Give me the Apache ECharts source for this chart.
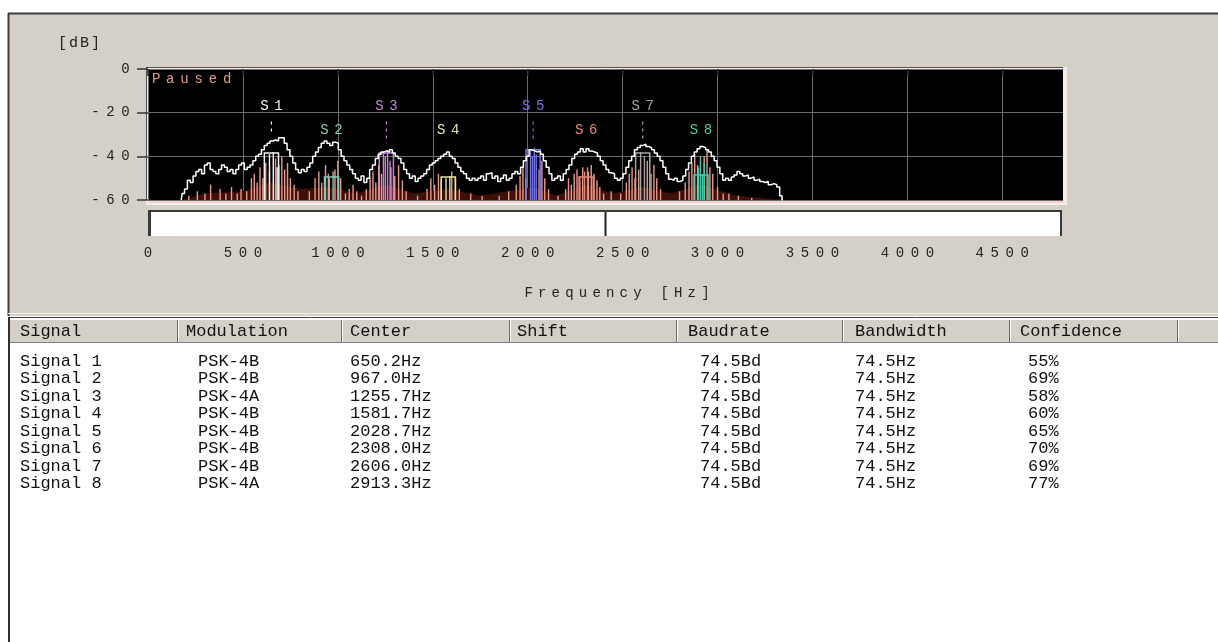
<!DOCTYPE html>
<html><head><meta charset="utf-8">
<script src="https://cdn.jsdelivr.net/npm/echarts@6/dist/echarts.min.js"></script>
<style>html,body{margin:0;padding:0;background:#fff}#c{width:1218px;height:642px}</style>
</head><body><div id="c"></div>
<script>
// ---------------- DATA ----------------
const xTickValues = [0, 500, 1000, 1500, 2000, 2500, 3000, 3500, 4000, 4500];
const yTickValues = [-60, -40, -20, 0];
const tableHeaders = ['Signal', 'Modulation', 'Center', 'Shift', 'Baudrate', 'Bandwidth', 'Confidence'];
const signalNames = ['Signal 1', 'Signal 2', 'Signal 3', 'Signal 4', 'Signal 5', 'Signal 6', 'Signal 7', 'Signal 8'];
const modulations = ['PSK-4B', 'PSK-4B', 'PSK-4A', 'PSK-4B', 'PSK-4B', 'PSK-4B', 'PSK-4B', 'PSK-4A'];
const centersHz = [650.2, 967.0, 1255.7, 1581.7, 2028.7, 2308.0, 2606.0, 2913.3];
const baudratesBd = [74.5, 74.5, 74.5, 74.5, 74.5, 74.5, 74.5, 74.5];
const bandwidthsHz = [74.5, 74.5, 74.5, 74.5, 74.5, 74.5, 74.5, 74.5];
const confidencesPct = [55, 69, 58, 60, 65, 70, 69, 77];
const signalTags = ['S1', 'S2', 'S3', 'S4', 'S5', 'S6', 'S7', 'S8'];
const tagLevelsDb = [-17, -28, -17, -28, -17, -28, -17, -28];
const dashFromDb = [-24, null, -24, null, -24, null, -24, null];
const dashToDb = [-29, null, -34, null, -33, null, -33, null];
const boxTopsDb = [-38.5, -49.5, -38.5, -49.5, -37, -49.5, -38.5, -48.5];
const markerHz = 2410;

const traceDb = [
  [175,-60],[185,-57],[200,-55],[215,-51],[230,-52],[245,-49],[260,-47],[275,-46],[290,-48],[305,-44],
  [320,-43],[335,-46],[350,-47],[365,-48],[380,-46],[395,-44],[410,-45],[425,-47],[440,-46],[455,-48],
  [470,-46],[485,-44],[500,-43],[515,-46],[530,-45],[545,-44],[560,-42],[575,-40],[590,-39],[605,-37],
  [620,-35],[635,-34],[650,-33],[665,-32.5],[680,-33],[695,-31.5],[710,-31.5],[725,-34],[740,-37],[755,-40],
  [770,-43],[785,-46],[800,-47.5],[815,-46],[830,-47],[845,-45],[860,-43],[875,-40],[890,-38],[905,-36],
  [920,-34],[935,-33],[950,-34],[965,-35],[980,-33.5],[995,-34],[1010,-37],[1025,-40],[1040,-42],[1055,-44],
  [1070,-46],[1085,-48],[1100,-50],[1115,-51],[1130,-49],[1145,-52],[1160,-50],[1175,-46],[1190,-44],[1205,-41],
  [1220,-39],[1235,-38],[1250,-37.5],[1265,-38],[1280,-37],[1295,-38.5],[1310,-40],[1325,-41],[1340,-43],[1355,-46],
  [1370,-48],[1385,-50],[1400,-49],[1415,-51.5],[1430,-50],[1445,-49],[1460,-48],[1475,-46],[1490,-44],[1505,-43],
  [1520,-42],[1535,-41],[1550,-40],[1565,-39],[1580,-38],[1595,-40],[1610,-41],[1625,-43],[1640,-45],[1655,-47],
  [1670,-48],[1685,-50],[1700,-51],[1715,-50],[1730,-51],[1745,-50],[1760,-49],[1775,-51],[1790,-48],[1805,-47.5],
  [1820,-50],[1835,-49],[1850,-51.5],[1865,-50],[1880,-48.5],[1895,-51],[1910,-50],[1925,-48],[1940,-47],[1955,-48],
  [1970,-45],[1985,-42],[2000,-40],[2015,-37],[2030,-37.5],[2045,-38],[2060,-37.5],[2075,-39],[2090,-42],[2105,-45],
  [2120,-48],[2135,-51],[2150,-50],[2165,-49],[2180,-51],[2195,-48],[2210,-46],[2225,-44],[2240,-41],[2255,-39],
  [2270,-38],[2285,-36.5],[2300,-38],[2315,-36.5],[2330,-37.5],[2345,-38],[2360,-38.5],[2375,-40],[2390,-42],[2405,-44],
  [2420,-46],[2435,-47.5],[2450,-48],[2465,-50],[2480,-51],[2495,-50],[2510,-48],[2525,-45],[2540,-42],[2555,-40],
  [2570,-37],[2585,-36],[2600,-35],[2615,-34.5],[2630,-35.5],[2645,-36],[2660,-37],[2675,-38.5],[2690,-40],[2705,-42],
  [2720,-45],[2735,-48],[2750,-50.5],[2765,-51],[2780,-50],[2795,-51.5],[2810,-51],[2825,-49],[2840,-46],[2855,-43],
  [2870,-40],[2885,-38],[2900,-36.5],[2915,-35.5],[2930,-36],[2945,-37],[2960,-38],[2975,-40],[2990,-42],[3005,-45],
  [3020,-48],[3035,-51],[3050,-50],[3065,-51],[3080,-49.5],[3095,-48.5],[3110,-47],[3125,-48],[3140,-49],[3155,-48.5],
  [3170,-50],[3185,-49.5],[3200,-51],[3215,-50.5],[3230,-51.5],[3245,-52],[3260,-51.5],[3275,-53],[3290,-52.5],[3305,-53],
  [3320,-54],[3335,-58],[3345,-60]
];

const noiseSpikes = [
  [215,-58],[260,-56],[300,-57],[330,-53],[380,-55],[410,-57],[440,-54],[470,-57],[490,-55],[520,-56],[545,-50],[560,-48],[575,-52],[590,-45],[605,-50],[620,-43],
  [640,-47],[672,-41],[690,-44],[705,-40],[720,-46],[735,-43],[750,-50],[770,-53],[790,-56],
  [850,-56],[880,-50],[900,-47],[915,-52],[935,-44],[950,-48],[985,-46],[1000,-42],[1015,-50],[1040,-57],
  [1060,-55],[1080,-53],[1100,-56],[1125,-58],
  [1150,-55],[1170,-50],[1185,-47],[1200,-52],[1215,-44],[1230,-48],[1280,-45],[1300,-49],[1320,-44],[1340,-51],[1360,-56],
  [1420,-58],[1470,-55],[1490,-50],[1510,-53],[1530,-48],[1545,-51],[1600,-47],[1620,-50],[1640,-55],[1700,-57],[1760,-58],
  [1850,-58],[1900,-56],[1940,-53],[1960,-49],[1975,-45],[1990,-50],[2060,-46],[2075,-42],[2090,-50],[2110,-55],[2160,-58],
  [2200,-55],[2215,-50],[2230,-53],[2245,-48],[2260,-46],[2275,-49],[2290,-45],[2320,-47],[2335,-44],[2350,-48],
  [2365,-51],[2380,-54],[2400,-57],[2440,-56],
  [2490,-57],[2520,-52],[2535,-48],[2550,-45],[2565,-50],[2585,-46],[2630,-42],[2650,-48],[2665,-44],[2680,-50],[2700,-55],
  [2800,-56],[2830,-52],[2850,-47],[2865,-43],[2880,-39],[2895,-44],[2930,-40],[2945,-37],[2960,-45],[2975,-48],
  [3000,-54],[3030,-57],[3060,-57],[3110,-58],[3180,-59]
];

const signalSpikes = [
  [[640,-39],[660,-38],[680,-45]],
  [[955,-50],[975,-47]],
  [[1240,-38],[1250,-40],[1262,-37],[1275,-42]],
  [[1570,-50],[1590,-49]],
  [[2015,-37],[2025,-40],[2035,-36],[2045,-39]],
  [[2300,-47],[2315,-45]],
  [[2595,-38],[2615,-40]],
  [[2900,-45],[2910,-40],[2920,-48],[2930,-43]]
];

const floorHazeDb = [
  [175,-60],[300,-57],[500,-56],[650,-52],[800,-55],[950,-54],[1100,-57],[1250,-53],[1400,-57],[1580,-55],
  [1750,-58],[2030,-54],[2150,-58],[2300,-53],[2450,-57],[2600,-54],[2750,-57],[2910,-53],[3100,-58],[3340,-60]
];

// ---------------- STYLE ----------------
const MONO = '"Liberation Mono", "Courier New", monospace';
const signalColors = ['#f2f2f2', '#86cbbb', '#c884d8', '#e6e6a4', '#7474e4', '#e48676', '#a4a4a4', '#44cbaa'];
const PANEL = '#d4d0c8';

function spaced(str) {
  return str.split('').map(ch => '{c|' + ch + '}').join('');
}
function richCell(w, size, color) {
  return { c: { width: w, align: 'center', fontSize: size, fontFamily: MONO, color: color, fill: color } };
}

const chart = echarts.init(document.getElementById('c'), null, { renderer: 'canvas' });

const GL = 148, GT = 69, GW = 915, GH = 131;
const colX = [8, 178, 342, 510, 677, 843, 1010, 1178, 1218];
const headerX = [20, 186, 350, 517, 688, 855, 1020];
const rowX = [20, 198, 350, 517, 700, 855, 1028];
const headerY = 331, rowY0 = 361, rowStep = 17.5;

const graphics = [];
// panel
graphics.push({ type: 'rect', shape: { x: 8, y: 13, width: 1210, height: 303 }, style: { fill: PANEL }, z: -10, silent: true });
graphics.push({ type: 'line', shape: { x1: 8, y1: 13.5, x2: 1218, y2: 13.5 }, style: { stroke: '#3c3c3c', lineWidth: 2 }, z: -9 });
graphics.push({ type: 'line', shape: { x1: 8.5, y1: 13, x2: 8.5, y2: 316 }, style: { stroke: '#3c3c3c', lineWidth: 2 }, z: -9 });
graphics.push({ type: 'line', shape: { x1: 8, y1: 313.5, x2: 1218, y2: 313.5 }, style: { stroke: '#f4f2ee', lineWidth: 1 }, z: -9 });
// plot frame
graphics.push({ type: 'rect', shape: { x: GL - 2, y: GT - 2, width: GW + 6, height: GH + 7 }, style: { fill: '#f2eeea' }, z: -8 });
graphics.push({ type: 'line', shape: { x1: GL - 1.5, y1: GT - 1, x2: GL - 1.5, y2: GT + GH }, style: { stroke: '#505050', lineWidth: 1 }, z: -7 });
graphics.push({ type: 'line', shape: { x1: GL - 2, y1: GT - 1.5, x2: GL + GW, y2: GT - 1.5 }, style: { stroke: '#505050', lineWidth: 1 }, z: -7 });
graphics.push({ type: 'rect', shape: { x: GL, y: GT + GH, width: GW, height: 3 }, style: { fill: '#f3d2c9' }, z: -7 });
// slider
graphics.push({ type: 'rect', shape: { x: GL, y: 210, width: 914, height: 26 }, style: { fill: '#ffffff' }, z: -8 });
graphics.push({ type: 'line', shape: { x1: GL, y1: 211, x2: GL + 914, y2: 211 }, style: { stroke: '#3a3a3a', lineWidth: 2 }, z: -7 });
graphics.push({ type: 'line', shape: { x1: GL + 1.5, y1: 210, x2: GL + 1.5, y2: 236 }, style: { stroke: '#3a3a3a', lineWidth: 3 }, z: -7 });
graphics.push({ type: 'line', shape: { x1: GL + 913, y1: 210, x2: GL + 913, y2: 236 }, style: { stroke: '#3a3a3a', lineWidth: 2 }, z: -7 });
// texts
graphics.push({ type: 'text', x: 57, y: 43, style: { text: spaced('[dB]'), rich: richCell(11, 15, '#222'), align: 'left', verticalAlign: 'middle' }, z: 5 });
graphics.push({ type: 'text', x: 617, y: 293, style: { text: spaced('Frequency [Hz]'), rich: richCell(13.6, 14, '#222'), align: 'center', verticalAlign: 'middle' }, z: 5 });
graphics.push({ type: 'text', x: 149, y: 79, style: { text: spaced('Paused'), rich: richCell(14.2, 14, '#e39a88'), align: 'left', verticalAlign: 'middle' }, z: 50 });

// table
graphics.push({ type: 'rect', shape: { x: 8, y: 317, width: 1210, height: 325 }, style: { fill: '#ffffff' }, z: -10 });
graphics.push({ type: 'line', shape: { x1: 8, y1: 317.5, x2: 1218, y2: 317.5 }, style: { stroke: '#404040', lineWidth: 1 }, z: -6 });
graphics.push({ type: 'line', shape: { x1: 9, y1: 317, x2: 9, y2: 642 }, style: { stroke: '#303030', lineWidth: 2 }, z: -6 });
graphics.push({ type: 'rect', shape: { x: 10, y: 319, width: 1208, height: 23 }, style: { fill: PANEL }, z: -6 });
graphics.push({ type: 'line', shape: { x1: 10, y1: 319.5, x2: 1218, y2: 319.5 }, style: { stroke: '#ffffff', lineWidth: 1 }, z: -5 });
graphics.push({ type: 'line', shape: { x1: 10, y1: 342.5, x2: 1218, y2: 342.5 }, style: { stroke: '#808080', lineWidth: 1 }, z: -5 });
for (let k = 1; k < colX.length - 1; k++) {
  graphics.push({ type: 'line', shape: { x1: colX[k] - 0.5, y1: 320, x2: colX[k] - 0.5, y2: 342 }, style: { stroke: '#6c6c6c', lineWidth: 1 }, z: -5 });
  graphics.push({ type: 'line', shape: { x1: colX[k] + 0.5, y1: 320, x2: colX[k] + 0.5, y2: 342 }, style: { stroke: '#ffffff', lineWidth: 1 }, z: -5 });
}
const TFONT = '17px ' + MONO;
tableHeaders.forEach((h, k) => {
  graphics.push({ type: 'text', x: headerX[k], y: headerY, style: { text: h, font: TFONT, fill: '#111', textAlign: 'left', textVerticalAlign: 'middle' }, z: 5 });
});
signalNames.forEach((name, i) => {
  const cells = [name, modulations[i], centersHz[i].toFixed(1) + 'Hz', '', baudratesBd[i].toFixed(1) + 'Bd', bandwidthsHz[i].toFixed(1) + 'Hz', confidencesPct[i] + '%'];
  cells.forEach((t, k) => {
    if (!t) return;
    graphics.push({ type: 'text', x: rowX[k], y: rowY0 + i * rowStep, style: { text: t, font: TFONT, fill: '#111', textAlign: 'left', textVerticalAlign: 'middle' }, z: 5 });
  });
});

function spikeSeries(name, data, color, width, z) {
  return {
    type: 'custom', name, data, z, silent: true, encode: { x: 0, y: 1 },
    renderItem(params, api) {
      const p0 = api.coord([api.value(0), -60]);
      const p1 = api.coord([api.value(0), api.value(1)]);
      return { type: 'line', shape: { x1: p0[0], y1: p0[1], x2: p1[0], y2: p1[1] }, style: { stroke: color, lineWidth: width } };
    }
  };
}

const series = [];
series.push({
  type: 'line', name: 'haze', data: floorHazeDb, showSymbol: false, silent: true, z: 1,
  lineStyle: { width: 0 }, areaStyle: { color: '#3e1009', origin: 'start', opacity: 1 }
});
series.push(spikeSeries('spikes', noiseSpikes, '#e99a8a', 1.4, 2));
signalSpikes.forEach((arr, i) => series.push(spikeSeries('sig' + i, arr, signalColors[i], 1.4, 3)));
series.push({
  type: 'custom', name: 'boxes', z: 4, silent: true, encode: { x: 0, y: 1 },
  data: centersHz.map((c, i) => [c, boxTopsDb[i], bandwidthsHz[i], i]),
  renderItem(params, api) {
    const c = api.value(0), top = api.value(1), bw = api.value(2), i = api.value(3);
    const a = api.coord([c - bw / 2, -60]), b = api.coord([c - bw / 2, top]);
    const d = api.coord([c + bw / 2, top]), e = api.coord([c + bw / 2, -60]);
    return { type: 'polyline', shape: { points: [a, b, d, e] }, style: { stroke: signalColors[i], lineWidth: 1.5, fill: null } };
  }
});
series.push({
  type: 'line', name: 'trace', data: traceDb, showSymbol: false, silent: true, z: 6, step: 'middle',
  lineStyle: { color: '#ffffff', width: 1.5 }
});
series.push({
  type: 'custom', name: 'tags', z: 8, silent: true, encode: { x: 0, y: 1 },
  data: centersHz.map((c, i) => [c, tagLevelsDb[i], i]),
  renderItem(params, api) {
    const c = api.value(0), lvl = api.value(1), i = api.value(2);
    const p = api.coord([c, lvl]);
    const children = [{
      type: 'text', x: p[0], y: p[1],
      style: { text: spaced(signalTags[i]), rich: richCell(14, 14, signalColors[i]), align: 'center', verticalAlign: 'middle', fill: signalColors[i] }
    }];
    if (dashFromDb[i] != null) {
      const q0 = api.coord([c, dashFromDb[i]]), q1 = api.coord([c, dashToDb[i]]);
      children.push({ type: 'line', shape: { x1: q0[0], y1: q0[1], x2: q1[0], y2: q1[1] }, style: { stroke: signalColors[i], lineWidth: 1.2, lineDash: [3, 4] } });
    }
    return { type: 'group', children };
  }
});

chart.setOption({
  animation: false,
  backgroundColor: '#ffffff',
  grid: { left: GL, top: GT, width: GW, height: GH, show: true, backgroundColor: '#000000', borderWidth: 0, containLabel: false },
  xAxis: {
    type: 'value', min: 0, max: 4820, interval: 500, offset: 38,
    axisLine: { show: false },
    axisTick: { show: true, length: 7, customValues: xTickValues, lineStyle: { color: '#222', width: 1.5 } },
    axisLabel: { margin: 8, customValues: xTickValues, formatter: v => spaced(String(v)), rich: richCell(15, 14, '#222') },
    splitLine: { show: true, lineStyle: { color: '#6c6c6c', width: 1 } }
  },
  yAxis: {
    type: 'value', min: -60, max: 0, interval: 20,
    axisLine: { show: false },
    axisTick: { show: true, length: 11, lineStyle: { color: '#333', width: 1.5 } },
    axisLabel: { margin: 15, formatter: v => spaced(String(v)), rich: richCell(15, 14, '#222') },
    splitLine: { show: true, lineStyle: { color: '#6c6c6c', width: 1 } }
  },
  graphic: graphics,
  series
});

// slider marker positioned through the x scale
const mx = chart.convertToPixel({ xAxisIndex: 0 }, markerHz);
chart.setOption({
  graphic: graphics.concat([{ type: 'line', shape: { x1: mx, y1: 212, x2: mx, y2: 236 }, style: { stroke: '#222', lineWidth: 2 }, z: -6 }])
});
</script>
</body></html>
